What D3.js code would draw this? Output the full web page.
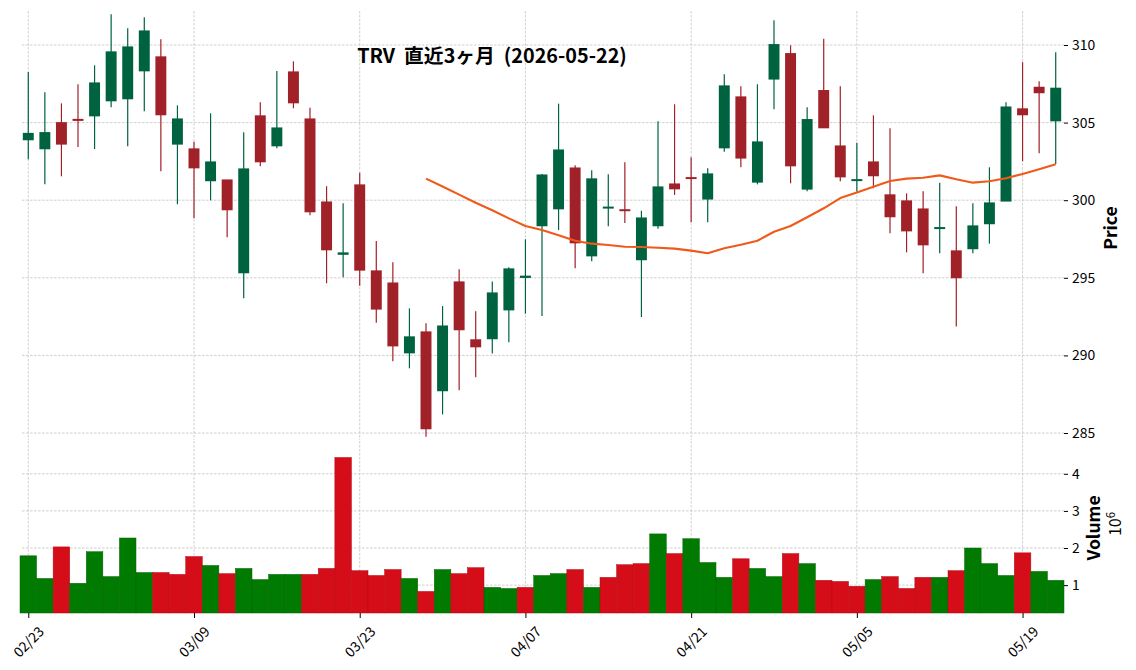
<!DOCTYPE html>
<html>
<head>
<meta charset="utf-8">
<script src="https://cdn.jsdelivr.net/npm/d3@7"></script>
<style>
    body { margin: 0; background: #fff; }
    text { font-family: "Noto Sans CJK JP", "Noto Sans", sans-serif; }
</style>
</head>
<body>
<div id="chart"></div>
<script>

// Daily bars, 2026-02-23 .. 2026-05-21 (Good Friday 04/03 closed)
var dates = ["02/23","02/24","02/25","02/26","02/27","03/02","03/03","03/04","03/05","03/06",
    "03/09","03/10","03/11","03/12","03/13","03/16","03/17","03/18","03/19","03/20",
    "03/23","03/24","03/25","03/26","03/27","03/30","03/31","04/01","04/02","04/06",
    "04/07","04/08","04/09","04/10","04/13","04/14","04/15","04/16","04/17","04/20",
    "04/21","04/22","04/23","04/24","04/27","04/28","04/29","04/30","05/01","05/04",
    "05/05","05/06","05/07","05/08","05/11","05/12","05/13","05/14","05/15","05/18",
    "05/19","05/20","05/21"];

var opens = [303.90,303.32,304.99,305.20,305.44,306.41,306.54,308.34,309.23,303.62,
    303.30,301.26,301.30,295.33,305.43,303.51,308.26,305.23,299.88,296.52,
    300.98,295.44,294.66,290.17,291.51,287.73,294.73,291.00,291.08,292.94,
    295.03,298.36,299.45,302.07,296.42,299.50,299.38,296.17,298.36,301.04,
    301.45,300.08,303.38,306.65,301.17,307.81,309.44,300.72,307.06,303.49,
    301.27,302.46,300.34,299.95,299.43,298.18,296.73,296.88,298.49,299.95,
    305.88,307.27,305.12];

var highs = [308.26,306.95,306.24,307.47,308.69,311.98,311.08,311.78,310.37,306.11,
    303.77,305.60,301.30,304.37,306.31,308.32,308.95,305.96,300.90,299.80,
    301.77,297.37,296.00,293.03,292.07,293.18,295.55,292.84,294.77,295.68,
    297.48,301.69,306.22,302.25,301.93,301.67,302.44,299.32,305.08,306.18,
    302.76,302.06,308.11,307.34,307.47,311.59,309.98,305.99,310.41,307.34,
    303.70,305.47,304.63,300.44,300.57,301.13,299.61,299.80,302.12,306.31,
    308.89,307.66,309.53];

var lows = [302.64,301.02,301.54,303.43,303.30,305.99,303.47,305.73,301.86,299.74,
    298.83,299.99,297.61,293.68,302.18,303.34,305.92,299.03,294.65,295.03,
    294.49,292.11,289.62,289.17,284.76,286.20,287.75,288.59,290.13,290.84,
    292.69,292.54,298.08,295.61,296.06,298.32,298.53,292.47,298.16,300.34,
    298.58,298.58,303.12,302.12,301.02,305.86,301.09,300.57,304.67,301.22,
    300.55,300.77,297.87,296.64,295.29,296.58,291.87,296.58,297.20,299.95,
    302.51,303.02,302.33];

var closes = [304.30,304.35,303.62,305.15,307.55,309.55,309.87,310.90,305.51,305.23,
    302.09,302.46,299.39,302.01,302.48,304.65,306.28,299.26,296.81,296.60,
    295.50,292.99,290.62,291.19,285.28,291.89,291.66,290.56,294.02,295.57,
    295.10,301.62,303.23,297.26,301.37,299.55,299.33,298.85,300.85,300.74,
    301.40,301.69,307.36,302.72,303.75,310.02,302.22,305.19,304.67,301.51,
    301.32,301.58,298.94,298.03,297.13,298.23,295.01,298.34,299.82,306.00,
    305.51,306.93,307.21];

var volumes = [1790000,1180000,2030000,1050000,1900000,1230000,2270000,1340000,1340000,1290000,
    1770000,1530000,1310000,1450000,1150000,1290000,1290000,1290000,1450000,4440000,
    1390000,1260000,1420000,1180000,830000,1420000,1310000,1470000,940000,910000,
    940000,1260000,1310000,1420000,940000,1210000,1550000,1580000,2380000,1850000,
    2250000,1610000,1210000,1710000,1450000,1230000,1850000,1580000,1130000,1100000,
    970000,1150000,1230000,910000,1210000,1210000,1390000,2000000,1580000,1260000,
    1870000,1370000,1130000];

// 25-day moving average, first value sits on bar 24
var maStart = 24;
var ma25 = [301.39,300.88,300.36,299.84,299.35,298.83,298.34,298.08,297.74,297.39,
    297.20,297.11,297.00,296.98,296.94,296.88,296.75,296.58,296.90,297.13,
    297.39,297.97,298.34,298.90,299.48,300.14,300.49,300.87,301.24,301.39,
    301.45,301.60,301.35,301.13,301.22,301.41,301.69,301.99,302.31];

var priceLimits = [284.55, 312.19];
var priceTicks = [285, 290, 295, 300, 305, 310];
var volumeTicks = [1000000, 2000000, 3000000, 4000000];
var dateTickIndex = [0, 10, 20, 30, 40, 50, 60];

var titleText = "TRV  直近3ヶ月  (2026-05-22)";


CandleChart = function(_parentElement){
    this.parentElement = _parentElement;

    this.initVis();
}


/*
 * Initialize visualization (static content, e.g. SVG area or axes)
 */

CandleChart.prototype.initVis = function(){
    var vis = this;

    vis.width = 1136;
    vis.height = 670;
    vis.left = 20;
    vis.right = 1064;
    vis.price = {top: 11, bottom: 440};
    vis.vol = {top: 441, bottom: 613};

    vis.colors = {up: "#006340", down: "#a02128", volUp: "#007a00", volDown: "#d50d18",
        ma: "#ef5a1a", grid: "#c4c4c4"};

    vis.svg = d3.select("#" + vis.parentElement).append("svg")
        .attr("width", vis.width)
        .attr("height", vis.height);

    // Scales
    vis.x = d3.scaleLinear()
        .domain([-0.5, dates.length - 0.5])
        .range([vis.left, vis.right]);

    vis.y = d3.scaleLinear()
        .domain(priceLimits)
        .range([vis.price.bottom, vis.price.top]);

    vis.yVol = d3.scaleLinear()
        .domain([0.3 * d3.min(volumes), 1.1 * d3.max(volumes)])
        .range([vis.vol.bottom, vis.vol.top]);

    vis.step = vis.x(1) - vis.x(0);

    // Grid
    vis.grid = vis.svg.append("g").attr("class", "grid")
        .attr("stroke", vis.colors.grid)
        .attr("stroke-width", 0.8)
        .attr("stroke-dasharray", "2.6,1.4");

    vis.grid.selectAll("line.hp")
        .data(priceTicks)
        .enter().append("line")
        .attr("class", "hp")
        .attr("x1", vis.left + 2).attr("x2", vis.right)
        .attr("y1", function(d) { return vis.y(d); })
        .attr("y2", function(d) { return vis.y(d); });

    vis.grid.selectAll("line.hv")
        .data(volumeTicks)
        .enter().append("line")
        .attr("class", "hv")
        .attr("x1", vis.left + 2).attr("x2", vis.right)
        .attr("y1", function(d) { return vis.yVol(d); })
        .attr("y2", function(d) { return vis.yVol(d); });

    [vis.price, vis.vol].forEach(function(panel){
        vis.grid.selectAll(null)
            .data(dateTickIndex)
            .enter().append("line")
            .attr("x1", function(d) { return vis.x(d); })
            .attr("x2", function(d) { return vis.x(d); })
            .attr("y1", panel.top)
            .attr("y2", panel.bottom);
    });

    // Axes
    vis.yAxis = d3.axisRight(vis.y)
        .tickValues(priceTicks)
        .tickSize(4)
        .tickPadding(4);

    vis.volAxis = d3.axisRight(vis.yVol)
        .tickValues(volumeTicks)
        .tickSize(4)
        .tickPadding(4)
        .tickFormat(function(d) { return d / 1e6; });

    vis.xAxis = d3.axisBottom(vis.x)
        .tickValues(dateTickIndex)
        .tickSize(5)
        .tickFormat(function(d) { return dates[d]; });

    vis.wrangleData();
}


/*
 * Data wrangling
 */

CandleChart.prototype.wrangleData = function(){
    var vis = this;

    vis.bars = dates.map(function(d, i){
        return {
            i: i, date: d,
            open: opens[i], high: highs[i], low: lows[i], close: closes[i],
            volume: volumes[i],
            // volume colour follows close vs previous close
            volUp: i === 0 ? true : closes[i] >= closes[i - 1]
        };
    });

    vis.maLine = ma25.map(function(v, k){ return {i: maStart + k, value: v}; });

    vis.updateVis();
}


/*
 * The drawing function
 */

CandleChart.prototype.updateVis = function(){
    var vis = this;

    // Volume bars
    vis.svg.append("g").attr("class", "volume")
        .selectAll("rect")
        .data(vis.bars)
        .enter().append("rect")
        .attr("x", function(d) { return vis.x(d.i) - vis.step / 2; })
        .attr("y", function(d) { return vis.yVol(d.volume); })
        .attr("width", vis.step)
        .attr("height", function(d) { return vis.vol.bottom - vis.yVol(d.volume); })
        .attr("fill", function(d) { return d.volUp ? vis.colors.volUp : vis.colors.volDown; })
        .attr("stroke", function(d) { return d3.color(d.volUp ? vis.colors.volUp : vis.colors.volDown).darker(0.5); })
        .attr("stroke-width", 0.5);

    // Candles
    vis.candles = vis.svg.append("g").attr("class", "candles")
        .selectAll("g")
        .data(vis.bars)
        .enter().append("g")
        .attr("fill", function(d) { return d.close >= d.open ? vis.colors.up : vis.colors.down; })
        .attr("stroke", function(d) { return d.close >= d.open ? vis.colors.up : vis.colors.down; });

    vis.candles.append("line")
        .attr("x1", function(d) { return vis.x(d.i); })
        .attr("x2", function(d) { return vis.x(d.i); })
        .attr("y1", function(d) { return vis.y(d.high); })
        .attr("y2", function(d) { return vis.y(d.low); })
        .attr("stroke-width", 1.2);

    var bodyW = vis.step * 0.66;
    vis.candles.append("rect")
        .attr("x", function(d) { return vis.x(d.i) - bodyW / 2; })
        .attr("y", function(d) { return vis.y(Math.max(d.open, d.close)) - 0.6; })
        .attr("width", bodyW)
        .attr("height", function(d) { return Math.max(Math.abs(vis.y(d.open) - vis.y(d.close)), 0.8) + 1.2; })
        .attr("stroke", "none");

    // Moving average
    vis.line = d3.line()
        .x(function(d) { return vis.x(d.i); })
        .y(function(d) { return vis.y(d.value); });

    vis.svg.append("path")
        .datum(vis.maLine)
        .attr("fill", "none")
        .attr("stroke", vis.colors.ma)
        .attr("stroke-width", 2.1)
        .attr("stroke-linejoin", "round")
        .attr("d", vis.line);

    // Axes
    var yg = vis.svg.append("g")
        .attr("class", "y-axis axis")
        .attr("transform", "translate(" + vis.right + ",0)")
        .call(vis.yAxis);

    var vg = vis.svg.append("g")
        .attr("class", "vol-axis axis")
        .attr("transform", "translate(" + vis.right + ",0)")
        .call(vis.volAxis);

    var xg = vis.svg.append("g")
        .attr("class", "x-axis axis")
        .attr("transform", "translate(0," + vis.vol.bottom + ")")
        .call(vis.xAxis);

    [yg, vg, xg].forEach(function(g){
        g.select(".domain").remove();
        g.selectAll("text")
            .attr("fill", "#000")
            .style("font-size", "13.9px");
        g.selectAll("line").attr("stroke", "#000");
    });

    xg.selectAll("text")
        .attr("y", 0)
        .attr("dy", "0.35em")
        .attr("text-anchor", "middle")
        .attr("transform", "translate(0,29) rotate(-45)");

    // Labels
    vis.svg.append("text")
        .attr("x", 492)
        .attr("y", 62.7)
        .attr("text-anchor", "middle")
        .style("white-space", "pre")
        .style("font-size", "19.8px")
        .style("font-weight", "bold")
        .text(titleText);

    vis.svg.append("text")
        .attr("transform", "translate(1116.7,228) rotate(-90)")
        .attr("text-anchor", "middle")
        .style("font-size", "17.5px")
        .style("font-weight", "bold")
        .text("Price");

    vis.svg.append("text")
        .attr("transform", "translate(1100,528) rotate(-90)")
        .attr("text-anchor", "middle")
        .style("font-size", "17.5px")
        .style("font-weight", "bold")
        .text("Volume");

    var off = vis.svg.append("text")
        .attr("transform", "translate(1121,524) rotate(-90)")
        .attr("text-anchor", "middle")
        .style("font-size", "16px");
    off.append("tspan").text("10");
    off.append("tspan").attr("dy", "-0.5em").style("font-size", "11.5px").text("6");
}


var chart = new CandleChart("chart");

</script>
</body>
</html>
